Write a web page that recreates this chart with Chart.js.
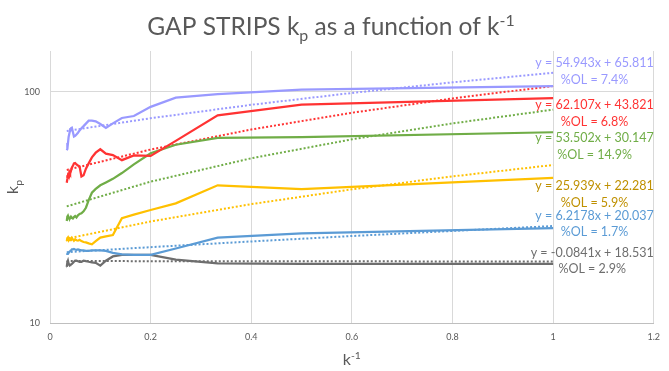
<!DOCTYPE html>
<html>
<head>
<meta charset="utf-8">
<script src="https://cdn.jsdelivr.net/npm/chart.js@4/dist/chart.umd.min.js"></script>
<style>
  html, body { margin: 0; padding: 0; background: #fff; }
  #wrap { width: 669px; height: 371px; }
</style>
</head>
<body>
<div id="wrap"><canvas id="chart" width="669" height="371"></canvas></div>
<script>
// k^-1 values, k = 1..30
const kInv = [1, 0.5, 0.3333, 0.25, 0.2, 0.1667, 0.1429, 0.125, 0.1111, 0.1,
  0.0909, 0.0833, 0.0769, 0.0714, 0.0667, 0.0625, 0.0588, 0.0556, 0.0526, 0.05,
  0.0476, 0.0455, 0.0435, 0.0417, 0.04, 0.0385, 0.037, 0.0357, 0.0345, 0.0333];

// kp per series
const purple = [105.7, 102, 97.7, 94.2, 86, 78.5, 77, 73, 69.7, 72.5,
  74.5, 75, 75, 72.8, 71, 69.5, 68, 66.5, 65.3, 64.5,
  64, 67, 69.9, 69.5, 68, 66, 63.7, 60, 56.5, 55.8];
const red = [93.8, 87.9, 79, 61.3, 52.8, 53, 50.6, 53.2, 54, 56.4,
  54.5, 52, 49, 46.5, 43.5, 43, 47.5, 48, 48.5, 49.2,
  49, 47.8, 47, 45.5, 44.3, 45, 43, 43.5, 42, 40.4];
const green = [66.8, 63.7, 63.2, 59, 54.2, 48.5, 44.5, 42, 40.5, 39.4,
  38, 36.6, 34, 31.5, 30.4, 29.8, 29.6, 29.2, 28.6, 29,
  28.7, 28.3, 28.5, 28.8, 28.4, 28.2, 28.6, 29.1, 28.8, 27.6];
const yellow = [42.4, 37.9, 39.4, 32.9, 30.8, 29.4, 28.4, 24, 23.7, 23.4,
  22.6, 21.9, 22.1, 22.3, 22.4, 22.6, 22.9, 22.7, 22.8, 23.0,
  22.7, 23.0, 23.3, 22.8, 23.2, 23.3, 22.9, 23.4, 23.2, 22.6];
const blue = [25.7, 24.4, 23.4, 21.0, 19.7, 19.7, 19.8, 20.1, 20.5, 20.6,
  20.6, 20.6, 20.5, 20.5, 20.6, 20.6, 20.7, 20.8, 20.7, 20.8,
  20.9, 20.8, 20.8, 20.6, 20.5, 20.3, 20.1, 19.9, 20.0, 20.1];
const gray = [18.0, 18.0, 18.1, 18.8, 19.7, 19.7, 19.7, 19.4, 18.6, 17.7,
  18.2, 18.3, 18.4, 18.5, 18.6, 18.4, 18.4, 18.5, 18.6, 18.6,
  18.4, 18.2, 18.0, 17.9, 17.8, 17.8, 18.1, 18.6, 18.3, 17.5];

// linear trendlines, sampled
const trendX = [0.0333, 0.2, 0.4, 0.6, 0.8, 1];
const purpleTrend = [67.64, 76.80, 87.79, 98.78, 109.77, 120.75];
const redTrend = [45.89, 56.24, 68.66, 81.09, 93.51, 105.93];
const greenTrend = [31.93, 40.85, 51.55, 62.25, 72.95, 83.65];
const yellowTrend = [23.15, 27.47, 32.66, 37.84, 43.03, 48.22];
const blueTrend = [20.24, 21.28, 22.52, 23.77, 25.01, 26.25];
const grayTrend = [18.53, 18.51, 18.50, 18.48, 18.46, 18.45];

const yTicks = [10, 100];

const equations = [
  ["y = 54.943x + 65.811", "%OL = 7.4%"],
  ["y = 62.107x + 43.821", "%OL = 6.8%"],
  ["y = 53.502x + 30.147", "%OL = 14.9%"],
  ["y = 25.939x + 22.281", "%OL = 5.9%"],
  ["y = 6.2178x + 20.037", "%OL = 1.7%"],
  ["y = -0.0841x + 18.531", "%OL = 2.9%"],
];

const FONT = "Lato, 'Open Sans', sans-serif";
const colors = ["#9999ff", "#ff3333", "#70ad47", "#ffc000", "#5b9bd5", "#6e6e6e"];
const labelColors = ["#9999ff", "#ff3333", "#70ad47", "#bf9000", "#5b9bd5", "#6e6e6e"];

const series = [purple, red, green, yellow, blue, gray];
const trends = [purpleTrend, redTrend, greenTrend, yellowTrend, blueTrend, grayTrend];

const pts = (xs, ys) => xs.map((x, i) => ({ x, y: ys[i] }));

const datasets = [];
series.forEach((s, i) => {
  datasets.push({
    data: pts(kInv, s),
    borderColor: colors[i],
    borderWidth: 2.25,
    pointRadius: 0,
    showLine: true,
    tension: 0,
  });
});
trends.forEach((t, i) => {
  datasets.push({
    data: pts(trendX, t),
    borderColor: colors[i],
    borderWidth: 2,
    borderDash: [2, 2],
    pointRadius: 0,
    showLine: true,
    tension: 0,
  });
});

// draws text pieces with sub/superscripts
function drawRich(ctx, parts, x, y, size, align) {
  const small = size * 0.65;
  let w = 0;
  parts.forEach(([t, kind]) => {
    ctx.font = (kind ? small : size) + "px " + FONT;
    w += ctx.measureText(t).width;
  });
  let cx = align === "center" ? x - w / 2 : x;
  ctx.textAlign = "left";
  ctx.textBaseline = "alphabetic";
  parts.forEach(([t, kind]) => {
    ctx.font = (kind ? small : size) + "px " + FONT;
    let dy = 0;
    if (kind === "sub") dy = size * 0.25;
    if (kind === "sup") dy = -size * 0.35;
    ctx.fillText(t, cx, y + dy);
    cx += ctx.measureText(t).width;
  });
}

const textPlugin = {
  id: "texts",
  afterDraw(chart) {
    const ctx = chart.ctx;
    const area = chart.chartArea;
    ctx.save();
    ctx.fillStyle = "#595959";
    drawRich(ctx, [["GAP STRIPS k"], ["p", "sub"], [" as a function of k"], ["-1", "sup"]],
      331, 35, 24.5, "center");
    drawRich(ctx, [["k"], ["-1", "sup"]], (area.left + area.right) / 2, 365, 16, "center");
    ctx.translate(18, (area.top + area.bottom) / 2);
    ctx.rotate(-Math.PI / 2);
    drawRich(ctx, [["k"], ["p", "sub"]], 0, 0, 16, "center");
    ctx.restore();

    // trendline equations
    const rows = [[62.7, 80], [105, 121.5], [138, 155], [186, 203], [216, 232], [253, 269]];
    ctx.save();
    ctx.font = "12.5px " + FONT;
    ctx.textBaseline = "middle";
    equations.forEach((eq, i) => {
      ctx.fillStyle = labelColors[i];
      const w = ctx.measureText(eq[0]).width;
      const right = area.right;
      ctx.textAlign = "right";
      ctx.fillText(eq[0], right, rows[i][0]);
      ctx.textAlign = "center";
      ctx.fillText(eq[1], right - w / 2, rows[i][1]);
    });
    ctx.restore();
  },
};

new Chart(document.getElementById("chart"), {
  type: "scatter",
  data: { datasets },
  options: {
    responsive: false,
    animation: false,
    devicePixelRatio: 1,
    layout: { padding: { top: 51, right: 14, left: 0, bottom: 0 } },
    plugins: { legend: { display: false }, tooltip: { enabled: false } },
    scales: {
      x: {
        type: "linear",
        min: 0,
        max: 1.2,
        ticks: {
          stepSize: 0.2,
          color: "#595959",
          font: { family: FONT, size: 9 },
          padding: 9,
          callback: (v) => String(Number(v.toFixed(1))),
        },
        grid: { color: "#d9d9d9", drawTicks: false },
        border: { color: "#bfbfbf" },
        afterFit: (s) => { s.height = 48; },
      },
      y: {
        type: "logarithmic",
        min: 10,
        max: 150,
        afterBuildTicks: (s) => { s.ticks = yTicks.map((v) => ({ value: v })); },
        ticks: {
          color: "#595959",
          font: { family: FONT, size: 9 },
          padding: 10,
          callback: (v) => String(v),
        },
        grid: { color: "#d9d9d9", drawTicks: false },
        border: { display: false },
        afterFit: (s) => { s.width = 50; },
      },
    },
  },
  plugins: [textPlugin],
});
</script>
</body>
</html>
